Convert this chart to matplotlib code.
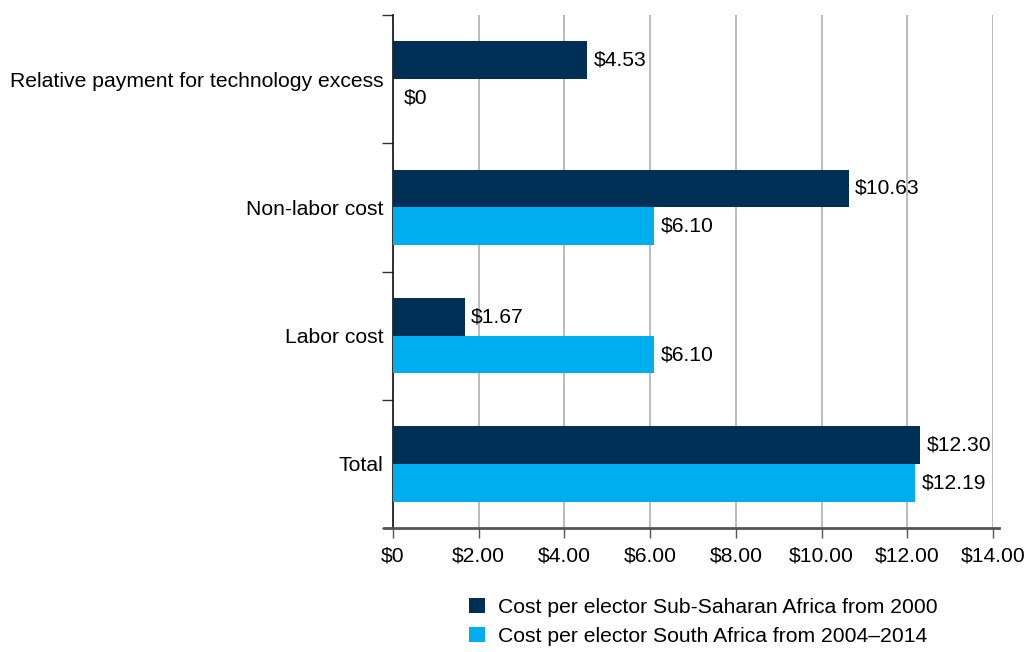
import matplotlib
matplotlib.use("Agg")
import matplotlib.pyplot as plt
from matplotlib.patches import Patch
import numpy as np

plt.rcParams['font.family'] = ['Liberation Sans', 'DejaVu Sans']

categories = ["Relative payment for technology excess", "Non-labor cost", "Labor cost", "Total"]
ssa_values = [4.53, 10.63, 1.67, 12.30]
sa_values = [0.0, 6.10, 6.10, 12.19]
series_names = ["Cost per elector Sub-Saharan Africa from 2000",
                "Cost per elector South Africa from 2004\u20132014"]
xticks = [0, 2, 4, 6, 8, 10, 12, 14]
xtick_labels = ["$0", "$2.00", "$4.00", "$6.00", "$8.00", "$10.00", "$12.00", "$14.00"]

dark = "#002f55"
light = "#00adef"
fs = 15.2

fig = plt.figure(figsize=(10.30, 6.52), dpi=100)
ax = fig.add_axes([393/1030, 1-528/652, 600/1030, (528-15)/652])

n = len(categories)
centers = np.arange(n)
h = 0.295
ax.barh(centers - h/2, ssa_values, height=h, color=dark, zorder=3)
ax.barh(centers + h/2, sa_values, height=h, color=light, zorder=3)

for i in range(n):
    ax.annotate(f"${ssa_values[i]:.2f}" if ssa_values[i] else "$0", (ssa_values[i], centers[i] - h/2),
                xytext=(4.5, 0), textcoords="offset points", va="center", ha="left", fontsize=fs)
    lab = f"${sa_values[i]:.2f}" if sa_values[i] else "$0"
    off = 4.5 if sa_values[i] else 8
    ax.annotate(lab, (sa_values[i], centers[i] + h/2),
                xytext=(off, 0), textcoords="offset points", va="center", ha="left", fontsize=fs)

ax.set_ylim(n - 0.5, -0.5)
ax.set_xlim(0, 14)
ax.set_yticks(centers)
ax.set_yticklabels(categories, fontsize=fs)
ax.tick_params(axis='y', which='major', length=0, pad=7)
ax.set_yticks(np.arange(-0.5, n, 1.0), minor=True)
ax.tick_params(axis='y', which='minor', length=8, width=1, color="#333333", direction='out')

ax.set_xticks(xticks)
ax.set_xticklabels(xtick_labels, fontsize=fs)
ax.tick_params(axis='x', length=7, width=1, color="#555555", pad=6)
ax.grid(axis='x', color="#b0b0b0", linewidth=1.2, zorder=0)

for s in ['top', 'right']:
    ax.spines[s].set_visible(False)
ax.spines['left'].set_color("#111111")
ax.spines['left'].set_linewidth(1.2)
ax.spines['bottom'].set_color("#555555")
ax.spines['bottom'].set_linewidth(2)
ax.spines['bottom'].set_bounds(-0.2, 14.15)

handles = [Patch(facecolor=dark), Patch(facecolor=light)]
fig.legend(handles, series_names, loc="upper left", bbox_to_anchor=(450/1030, 1-579/652),
           frameon=False, fontsize=fs, handlelength=0.75, handleheight=0.75,
           handletextpad=0.6, labelspacing=0.45)

fig.savefig("out.png", dpi=100)
